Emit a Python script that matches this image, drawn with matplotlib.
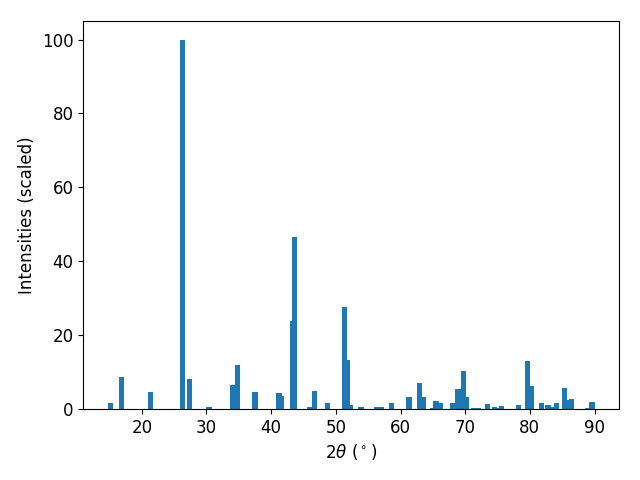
import matplotlib
matplotlib.use("Agg")
import matplotlib.pyplot as plt

# peak positions (2 theta, degrees) and scaled intensities
two_theta = [15.1, 16.8, 21.3, 26.3, 27.4, 30.4, 34.0, 34.8, 37.5, 41.2,
             41.6, 43.3, 43.6, 45.9, 46.7, 48.7, 51.3, 51.8, 52.2, 53.9,
             56.3, 57.0, 58.6, 61.3, 62.9, 63.6, 65.0, 65.5, 66.2, 68.0,
             68.9, 69.7, 70.2, 71.3, 72.0, 73.4, 74.5, 75.0, 75.6, 78.2,
             79.6, 80.3, 81.8, 82.8, 83.3, 84.1, 85.3, 85.9, 86.4, 88.9,
             89.6]
intensity = [1.7, 8.7, 4.7, 100.0, 8.1, 0.4, 6.5, 11.9, 4.6, 4.3,
             3.5, 23.8, 46.6, 0.5, 4.9, 1.6, 27.6, 13.3, 1.1, 0.6,
             0.5, 0.6, 1.6, 3.2, 7.0, 3.2, 0.3, 2.2, 1.7, 1.7,
             5.4, 10.3, 3.2, 0.3, 0.3, 1.4, 0.6, 0.3, 0.8, 1.1,
             13.0, 6.2, 1.6, 1.1, 0.5, 1.6, 5.7, 2.4, 2.7, 0.3,
             1.9]

plt.rcParams['font.size'] = 12

fig, ax = plt.subplots(figsize=(6.4, 4.8), dpi=100)
ax.bar(two_theta, intensity, width=0.8)

ax.set_xlabel(r'$2\theta$ ($^\circ$)')
ax.set_ylabel('Intensities (scaled)')

fig.subplots_adjust(left=0.13, right=0.967, top=0.956, bottom=0.148)
fig.savefig('out.png')
